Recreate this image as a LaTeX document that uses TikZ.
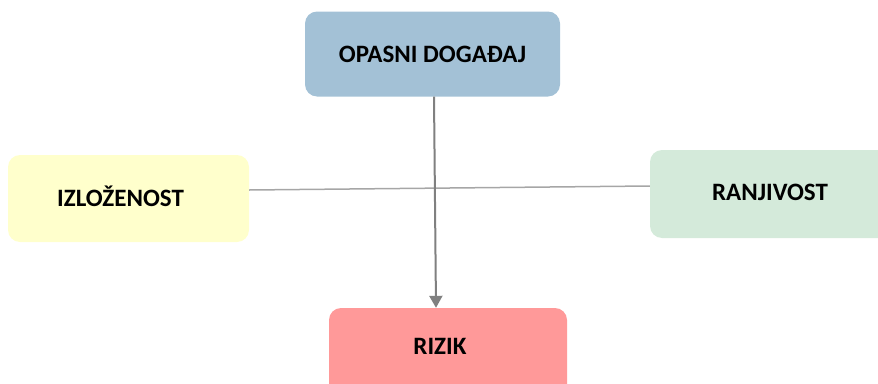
\documentclass[tikz,border=0pt]{standalone}
\usepackage{fontspec}
\setmainfont{Carlito}
\usetikzlibrary{arrows.meta}
\definecolor{cblue}{HTML}{A3C1D6}
\definecolor{cyellow}{HTML}{FFFFCC}
\definecolor{cgreen}{HTML}{D4EADA}
\definecolor{cred}{HTML}{FF9999}
\definecolor{cline}{HTML}{A6A6A6}
\definecolor{carrow}{HTML}{808080}
\tikzset{
  box/.style={rounded corners=12pt, inner sep=0pt, font=\bfseries\fontsize{25}{28}\selectfont, text=black},
  conn/.style={draw=cline, line width=1.5pt},
  arr/.style={draw=carrow, line width=2pt, -{Triangle[width=13pt,length=12pt]}}
}
\begin{document}
\begin{tikzpicture}[x=1pt,y=-1pt]
\useasboundingbox (0,0) rectangle (878,383);
\node[box, fill=cblue, minimum width=255pt, minimum height=85pt] (opasni) at (432.5,54) {OPASNI DOGAĐAJ};
\node[box, fill=cyellow, minimum width=241pt, minimum height=87pt] (izl) at (128.5,198.5) {\hspace*{-16pt}\raisebox{5pt}{IZLOŽENOST}};
\node[box, fill=cgreen, minimum width=240pt, minimum height=88pt] (ranj) at (770,194) {\raisebox{3pt}{RANJIVOST}};
\node[box, fill=cred, minimum width=238pt, minimum height=88pt] (rizik) at (448,352) {\hspace*{-16pt}\raisebox{12pt}{RIZIK}};
\draw[conn] ([yshift=8.5pt]izl.east) -- ([yshift=8pt]ranj.west);
\draw[arr] ([xshift=1.5pt]opasni.south) -- ([xshift=-12pt]rizik.north);
\end{tikzpicture}
\end{document}
